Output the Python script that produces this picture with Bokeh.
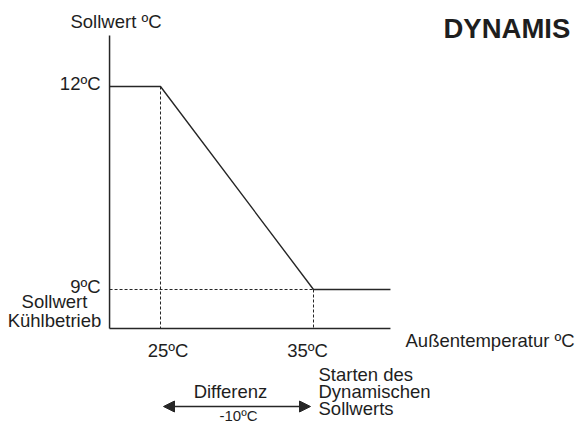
from bokeh.plotting import figure
from bokeh.models import Arrow, NormalHead, Range1d
from bokeh.core.properties import value
from bokeh.embed import file_html
from bokeh.resources import INLINE

# ---- data ----
outdoor_breaks = [25, 35]          # outside temperature break points (ºC)
setpoints = [12, 9]                # chilled water set point at those break points (ºC)
x_tick_labels = ["25ºC", "35ºC"]
y_tick_labels = ["12ºC", "9ºC"]
x_axis = [21.67, 40.03]            # drawn x-axis extent (ºC)
y_axis = [8.424, 12.754]           # drawn y-axis extent (ºC)

FONT = "Liberation Sans"
TXT = "#1e1e1e"
LINE = "#262626"
W, H = 576, 423
FS = "18.5px"

# pixel <-> data mapping for the canvas
SX = 15.3      # px per ºC outside temperature
SY = 67.667    # px per ºC set point
def px(xp):
    return 25 + (xp - 160) / SX
def py(yp):
    return 9 + (289 - yp) / SY

p = figure(width=W, height=H, x_range=Range1d(px(0), px(W)), y_range=Range1d(py(H), py(0)),
           output_backend="svg", toolbar_location=None, min_border=0)
p.axis.visible = False
p.grid.visible = False
p.outline_line_color = None

# axis lines
p.line([x_axis[0], x_axis[0]], y_axis, line_color=LINE, line_width=1.5)
p.line(x_axis, [y_axis[0], y_axis[0]], line_color=LINE, line_width=1.5)

# curve
curve_x = [x_axis[0]] + outdoor_breaks + [x_axis[1]]
curve_y = [setpoints[0]] + setpoints + [setpoints[-1]]
p.line(curve_x, curve_y, line_color=LINE, line_width=1.4)

# dotted guides
p.segment(x0=outdoor_breaks, y0=setpoints, x1=outdoor_breaks, y1=[y_axis[0]] * len(outdoor_breaks),
          line_color=LINE, line_width=1, line_dash="3 2")
p.segment(x0=[x_axis[0]], y0=[setpoints[-1]], x1=[outdoor_breaks[-1]], y1=[setpoints[-1]],
          line_color=LINE, line_width=1, line_dash="3 2")

def lab(text, x, y, align="left", size=FS, style="normal"):
    p.text(x=[x], y=[y], text=[text], text_font=value(FONT), text_font_size=size,
           text_color=TXT, text_align=align, text_baseline="middle", text_font_style=style)

# y tick labels (at the set points)
for t, s in zip(y_tick_labels, setpoints):
    lab(t, x_axis[0] - 9 / SX, s + 3 / SY, "right")
lab("Sollwert", px(54), py(301), "center")
lab("Kühlbetrieb", px(54), py(320), "center")
# x tick labels (at the break points)
lab(x_tick_labels[0], outdoor_breaks[0] + 7.5 / SX, py(350), "center")
lab(x_tick_labels[1], outdoor_breaks[1] - 6 / SX, py(350), "center")

lab("Sollwert ºC", px(115.5), py(21), "center")
lab("DYNAMIS", px(443), py(28), "left", "27.5px", "bold")
lab("Außentemperatur ºC", px(405), py(340), "left")
lab("Starten des", px(318), py(374), "left")
lab("Dynamischen", px(318), py(391), "left")
lab("Sollwerts", px(318), py(408), "left")
lab("Differenz", px(230), py(391), "center")
lab("-10ºC", px(238), py(414.5), "center", "15px")

# difference arrow
ay = py(406)
inset = 3 / SX
p.add_layout(Arrow(x_start=outdoor_breaks[0] + inset, y_start=ay,
                   x_end=outdoor_breaks[1] - inset, y_end=ay,
                   line_color=LINE, line_width=1.5,
                   start=NormalHead(size=11, fill_color=LINE, line_color=LINE),
                   end=NormalHead(size=11, fill_color=LINE, line_color=LINE)))

open("out.html", "w").write(file_html(p, INLINE))
